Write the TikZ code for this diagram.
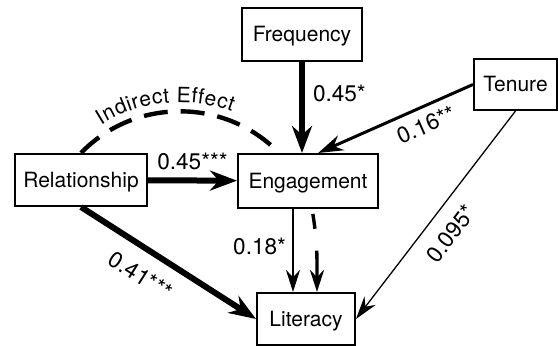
\documentclass[tikz,border=0pt]{standalone}
\usepackage{fontspec}
\setmainfont{TeX Gyre Heros}
\usetikzlibrary{arrows.meta,decorations.text}

\begin{document}
\begin{tikzpicture}[x=0.5pt,y=0.5pt,
        var node/.style={draw,line width=1pt,inner sep=0pt,minimum height=26pt,
            text height=7.5pt,text depth=0pt,font=\fontsize{10.5}{12}\selectfont},
        coef/.style={font=\fontsize{11.3}{13}\selectfont,inner sep=4pt},
        heavy/.style={line width=3pt,-{Stealth[length=13.5pt,width=10pt]}},
        medium/.style={line width=1.5pt,-{Stealth[length=12.5pt,width=8pt]}},
        light/.style={line width=1pt,-{Stealth[length=11pt,width=7pt]}},
        hair/.style={line width=0.65pt,-{Stealth[length=11.5pt,width=7pt]}}]

    \useasboundingbox (0,0) rectangle (558,346);

    \node[var node] [minimum width=60pt,minimum height=26.5pt] (freq) at (302,311.5) {Frequency};
    \node[var node] [minimum width=41.5pt,minimum height=25.5pt] (ten) at (515.5,261.5) {Tenure};
    \node[var node] [minimum width=66pt] (rel) at (81,166) {Relationship};
    \node[var node] [minimum width=70pt,minimum height=27pt] (eng) at (308,165) {Engagement};
    \node[var node] [minimum width=49pt] (lit) at (306,27) {Literacy};

    \path
    (freq) edge [heavy] node[coef,right,pos=0.35] {0.45*} (freq |- eng.north)
    (rel) edge [heavy] node[coef,above] {0.45***} (eng)
    (rel.south) edge [heavy] node[coef,below=3pt,sloped,pos=0.42] {0.41***} (lit.west)
    (ten.west) edge [medium] node[coef,below,sloped,pos=0.35] {0.16**} (eng.70)
    (ten.south) edge [hair] node[coef,below=3pt,sloped,pos=0.52] {0.095*} (lit.east)
    ([xshift=-7.5pt]eng.south) edge [light] node[coef,left,inner sep=3pt,pos=0.45] {0.18*} ([xshift=-7.5pt]eng.south |- lit.north)
    ([xshift=2pt]eng.south) edge [light,line width=1.7pt,dash pattern=on 0pt off 2.5pt on 7.5pt off 11pt on 40pt,out=-80,in=90] ([xshift=4.5pt]eng.south |- lit.north)
    ;

    \draw[line width=2.2pt,dash pattern=on 12pt off 6.5pt,
        postaction={decorate,decoration={text along path,raise=4.5pt,
            text align={left indent=16pt},
            text={|\fontsize{10.5}{12}\selectfont|Indirect Effect}}}]
        (rel.north) to[bend left=46] (eng.136);
\end{tikzpicture}
\end{document}
